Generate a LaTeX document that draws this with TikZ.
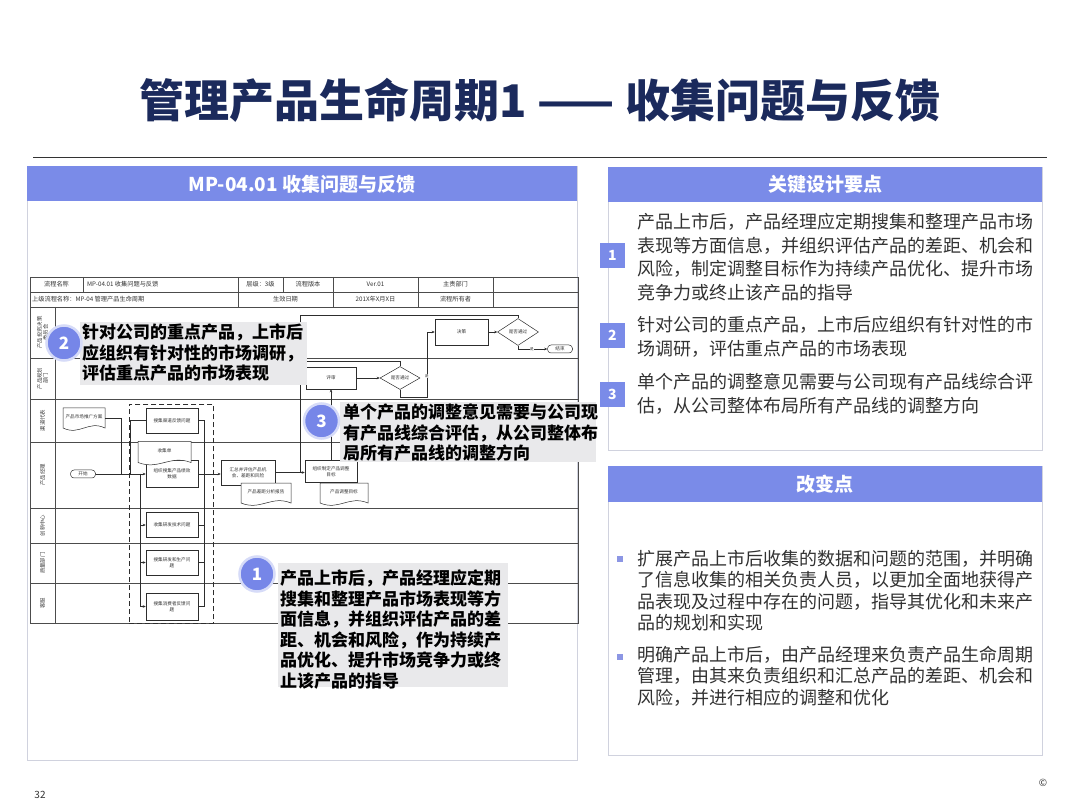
\documentclass[tikz,border=0pt]{standalone}
\usepackage{fontspec}
\setmainfont{Noto Sans CJK SC}
\usetikzlibrary{shapes.geometric,calc,arrows.meta}
\definecolor{hdr}{RGB}{122,139,232}
\definecolor{navy}{RGB}{27,42,92}
\definecolor{calloutbg}{RGB}{233,233,235}
\definecolor{circfill}{RGB}{118,134,232}
\definecolor{panelline}{RGB}{208,210,222}
\definecolor{bulletc}{RGB}{140,150,228}
\definecolor{flow}{RGB}{45,45,45}
\definecolor{bodytext}{RGB}{50,50,50}

\newcommand{\flowdoc}[6]{%
  \node[minimum width=#4, minimum height=#5, inner sep=0, outer sep=0] (#1) at (#2,#3) {};
  \filldraw[fill=white, draw=flow, line width=0.5pt] (#1.south west) -- (#1.north west) -- (#1.north east) -- (#1.south east)
    .. controls ($(#1.south east)!0.4!(#1.south west)+(0,-8)$) and ($(#1.south east)!0.6!(#1.south west)+(0,8)$) .. (#1.south west) -- cycle;
  \node[ftiny, align=center, inner sep=0] (#1-t) at ($(#1)+(0,-1.5)$) {#6};
}

\begin{document}
\begin{tikzpicture}[x=1pt,y=-1pt,
  ftiny/.style={font=\fontsize{4.6}{5.8}\selectfont, text=black!80},
  cell/.style={font=\fontsize{6.2}{7}\selectfont, text=black!80, inner sep=0},
  lanelbl/.style={font=\fontsize{5.4}{6}\selectfont, text=black!75, inner sep=0, align=center},
  proc/.style={draw=flow, fill=white, line width=0.5pt, inner sep=0.5pt, align=center, font=\fontsize{4.6}{5.8}\selectfont, text=black!80},
  dia/.style={diamond, draw=flow, fill=white, line width=0.5pt, inner sep=0, font=\fontsize{4.6}{5.8}\selectfont, text=black!80, aspect=1.7},
  term/.style={draw=flow, fill=white, rounded corners=3.5pt, line width=0.5pt, minimum width=25, minimum height=8, inner sep=0, font=\fontsize{4.6}{5.8}\selectfont, text=black!80},
  conn/.style={draw=flow, line width=0.5pt},
  arr/.style={conn, -{Stealth[length=3pt,width=2.6pt]}},
  yes/.style={fill=white, inner sep=0.3pt, font=\fontsize{3.6}{4}\selectfont, text=black!80},
  tbl/.style={draw=black!70, line width=0.6pt},
  hdrbox/.style={fill=hdr, draw=none, inner sep=0},
  hdrtext/.style={text=white, font=\bfseries\fontsize{19}{22}\selectfont, inner sep=0},
  panel/.style={draw=panelline, line width=0.9pt, fill=white, inner sep=0},
  rtext/.style={font=\fontsize{18}{23.6}\selectfont, align=left, inner sep=0, text=bodytext, anchor=north west},
  rtext2/.style={font=\fontsize{18}{21.4}\selectfont, align=left, inner sep=0, text=bodytext, anchor=north west},
  numsq/.style={fill=hdr, minimum size=25, inner sep=0, text=white, font=\bfseries\fontsize{14}{14}\selectfont},
  bul/.style={fill=bulletc, minimum size=6.5, inner sep=0},
  cbox/.style={fill=calloutbg, inner sep=0, anchor=north west},
  ctext/.style={font=\bfseries\fontsize{17}{20.6}\selectfont, align=left, inner sep=0, text=black, anchor=north west},
  numcirc/.style={circle, fill=circfill, draw=circfill!30, line width=2.5pt, minimum size=35, inner sep=0, text=white, font=\bfseries\fontsize{17}{17}\selectfont}
]
\useasboundingbox (0,0) rectangle (1080,810);
\fill[white] (0,0) rectangle (1080,810);

% ---------- title ----------
\node[font=\bfseries\fontsize{45}{50}\selectfont, text=navy, inner sep=0] (title) at (540,100) {管理产品生命周期1 —— 收集问题与反馈};
\coordinate (ruleL) at (33,157);
\coordinate (ruleR) at (1047,157);
\draw[line width=0.9pt, black!80] (ruleL) -- (ruleR);

% ---------- left panel ----------
\node[panel, minimum width=550, minimum height=594, anchor=north west] (lpanel) at (27,166) {};
\node[hdrbox, minimum width=550, minimum height=35, anchor=north west] (lhdr) at (27,166) {};
\node[hdrtext] (lhdrt) at (302,184) {MP-04.01 收集问题与反馈};

% table grid
\draw[tbl] (30,277) rectangle (578,623);
\foreach \yy in {292,307,358,399,442,508,543,583} { \draw[tbl] (30,\yy) -- (578,\yy); }
\draw[tbl] (55,307) -- (55,623);
\foreach \xx in {83,283} { \draw[tbl] (\xx,277) -- (\xx,292); }
\foreach \xx in {238,333,418,493} { \draw[tbl] (\xx,277) -- (\xx,307); }

% table texts
\node[cell] (h1) at (56.5,284.5) {流程名称};
\node[cell, anchor=west] (h2) at (87,284.5) {MP-04.01 收集问题与反馈};
\node[cell] (h3) at (260.5,284.5) {层级：3级};
\node[cell] (h4) at (308,284.5) {流程版本};
\node[cell] (h5) at (375.5,284.5) {Ver.01};
\node[cell] (h6) at (455.5,284.5) {主责部门};
\node[cell, anchor=west] (h7) at (32,299.5) {上级流程名称：MP-04 管理产品生命周期};
\node[cell] (h8) at (285.5,299.5) {生效日期};
\node[cell] (h9) at (375.5,299.5) {201X年X月X日};
\node[cell] (h10) at (455.5,299.5) {流程所有者};

% lane labels
\node[lanelbl, rotate=90] (l1) at (42.5,332.5) {产品投资决策\\委员会};
\node[lanelbl, rotate=90] (l2) at (42.5,378.5) {产品规划\\部门};
\node[lanelbl, rotate=90] (l3) at (42.5,420.5) {渠道代表};
\node[lanelbl, rotate=90] (l4) at (42.5,475) {产品经理};
\node[lanelbl, rotate=90] (l5) at (42.5,525.5) {创新中心};
\node[lanelbl, rotate=90] (l6) at (42.5,563) {质量部门};
\node[lanelbl, rotate=90] (l7) at (42.5,603) {客服};

% dashed group
\node[draw=flow, line width=0.7pt, dash pattern=on 5pt off 3pt, minimum width=84, minimum height=219, anchor=north west, inner sep=0] (grp) at (129,404) {};

% flow nodes
\node[term] (start) at (83,474) {开始};
\node[proc, minimum width=52, minimum height=25] (g1) at (172,420.5) {搜集渠道反馈问题};
\node[proc, minimum width=52, minimum height=27] (g2) at (172,474) {组织搜集产品绩效\\数据};
\flowdoc{doc1}{84}{418}{42}{20}{产品市场推广方案}
\flowdoc{doc2}{164.5}{452}{53}{21}{收集单}
\node[proc, minimum width=52, minimum height=25] (g3) at (172,525) {收集研发技术问题};
\node[proc, minimum width=52, minimum height=25] (g4) at (172,562.5) {搜集研发和生产问\\题};
\node[proc, minimum width=52, minimum height=27] (g5) at (172,606.5) {搜集消费者反馈问\\题};
\node[proc, minimum width=54, minimum height=25] (s1) at (248,472.5) {汇总并评估产品机\\会、差距和风险};
\flowdoc{doc3}{266}{493}{50}{20}{产品差距分析报告}
\node[proc, minimum width=52, minimum height=22] (s2) at (331,471.5) {组织制定产品调整\\目标};
\flowdoc{doc4}{344}{493}{48}{20}{产品调整目标}
\node[proc, minimum width=50, minimum height=22] (s3) at (331,378) {评审};
\node[dia, minimum width=40, minimum height=23] (d1) at (400,378) {是否通过};
\node[proc, minimum width=53, minimum height=26] (s4) at (461.5,332) {决策};
\node[dia, minimum width=41, minimum height=27] (d2) at (518,332) {是否通过};
\node[term] (finish) at (560,349) {结束};

% connectors
\coordinate (j1) at (121,474);
\coordinate (j2) at (130,474);
\coordinate (lb) at (140,474);
\coordinate (rb) at (204,474);
\draw[arr] (start.east) -- (start.east -| g2.west);
\draw[conn] (doc1.east) -| (j1);
\draw[conn] (g1.west) -| (j2);
\draw[arr] (lb) |- (g3.west);
\draw[arr] (lb) |- (g4.west);
\draw[arr] (lb) |- (g5.west);
\draw[conn] (g1.east) -| (rb);
\draw[conn] (g2.east) -- (rb);
\draw[conn] (g3.east) -| (rb);
\draw[conn] (g4.east) -| (rb);
\draw[conn] (g5.east) -| (rb);
\draw[arr] (rb) -- (rb -| s1.west);
\draw[arr] (s1.east) -- (s1.east -| s2.west);
\draw[arr] (s2.north) -- (s3.south);
\draw[arr] (s3.east) -- (d1.west);
\coordinate (k1) at (427,397);
\draw[arr] (d1.south) |- (k1) |- (s4.west);
\node[yes] (y1) at (427,376) {是};
\draw[arr] (s4.east) -- (d2.west);
\draw[arr] (d2.south) |- (finish.west);
\node[yes] (y2) at (532,349) {是};
\coordinate (lp1) at (300,315);
\coordinate (lp2) at (300,361);
\coordinate (m0) at (300,472.5);
\draw[conn] (d2.north) |- (lp1) -- (m0);
\draw[conn] (d1.north) |- (lp2);

% ---------- callouts ----------
\node[cbox, minimum width=227, minimum height=63] (c2) at (80,322) {};
\node[ctext] (c2t) at (82,323.5) {针对公司的重点产品，上市后\\应组织有针对性的市场调研，\\评估重点产品的市场表现};
\node[numcirc] (c2n) at (64,343) {2};

\node[cbox, minimum width=256, minimum height=60] (c3) at (340,402) {};
\node[ctext] (c3t) at (343,403.5) {单个产品的调整意见需要与公司现\\有产品线综合评估，从公司整体布\\局所有产品线的调整方向};
\node[numcirc] (c3n) at (321.5,421) {3};

\node[cbox, minimum width=230, minimum height=124] (c1) at (278,563) {};
\node[ctext] (c1t) at (280,569.5) {产品上市后，产品经理应定期\\搜集和整理产品市场表现等方\\面信息，并组织评估产品的差\\距、机会和风险，作为持续产\\品优化、提升市场竞争力或终\\止该产品的指导};
\node[numcirc] (c1n) at (257,574) {1};

% ---------- right panel 1 ----------
\node[panel, minimum width=434, minimum height=283, anchor=north west] (rp1) at (608,167) {};
\node[hdrbox, minimum width=434, minimum height=35, anchor=north west] (rh1) at (608,167) {};
\node[hdrtext] (rh1t) at (825,184.5) {关键设计要点};
\node[numsq] (n1) at (612.5,255.5) {1};
\node[numsq] (n2) at (612.5,335.5) {2};
\node[numsq] (n3) at (612.5,394.5) {3};
\node[rtext] (t1) at (637,213) {产品上市后，产品经理应定期搜集和整理产品市场\\表现等方面信息，并组织评估产品的差距、机会和\\风险，制定调整目标作为持续产品优化、提升市场\\竞争力或终止该产品的指导};
\node[rtext] (t2) at (637,316) {针对公司的重点产品，上市后应组织有针对性的市\\场调研，评估重点产品的市场表现};
\node[rtext] (t3) at (637,373) {单个产品的调整意见需要与公司现有产品线综合评\\估，从公司整体布局所有产品线的调整方向};

% ---------- right panel 2 ----------
\node[panel, minimum width=434, minimum height=289, anchor=north west] (rp2) at (608,466) {};
\node[hdrbox, minimum width=434, minimum height=36, anchor=north west] (rh2) at (608,466) {};
\node[hdrtext] (rh2t) at (825,484) {改变点};
\node[bul] (b1) at (620,559) {};
\node[bul] (b2) at (620,657) {};
\node[rtext2] (u1) at (637,550) {扩展产品上市后收集的数据和问题的范围，并明确\\了信息收集的相关负责人员，以更加全面地获得产\\品表现及过程中存在的问题，指导其优化和未来产\\品的规划和实现};
\node[rtext2] (u2) at (637,646) {明确产品上市后，由产品经理来负责产品生命周期\\管理，由其来负责组织和汇总产品的差距、机会和\\风险，并进行相应的调整和优化};

% ---------- footer ----------
\node[font=\fontsize{10}{10}\selectfont, text=black!80, inner sep=0] (pg) at (40,795) {32};
\node[font=\fontsize{10}{10}\selectfont, text=black!80, inner sep=0] (cr) at (1043,783) {©};
\end{tikzpicture}
\end{document}
